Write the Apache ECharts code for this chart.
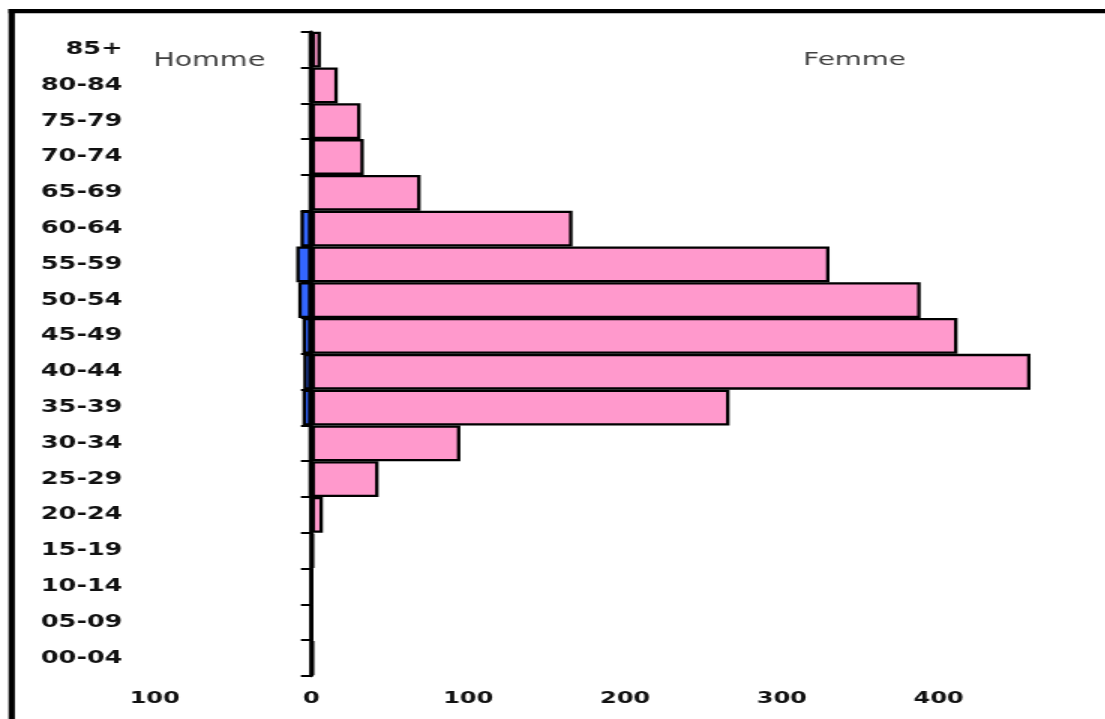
<!DOCTYPE html>
<html>
<head>
<meta charset="utf-8">
<script src="https://cdn.jsdelivr.net/npm/echarts@6/dist/echarts.min.js"></script>
<style>
html,body{margin:0;padding:0;background:#fff;overflow:hidden;width:1105px;height:719px;}
#c{width:737px;height:719px;transform:scaleX(1.5);transform-origin:0 0;}
</style>
</head>
<body>
<div id="c"></div>
<script>
// Age groups, bottom to top
const ageGroups = ['00-04','05-09','10-14','15-19','20-24','25-29','30-34','35-39','40-44','45-49','50-54','55-59','60-64','65-69','70-74','75-79','80-84','85+'];
// Homme (men) counts, drawn to the left
const homme = [0, 0, 0, 0, 0.5, 1.5, 1.5, 5.7, 5.2, 5.7, 8.4, 9.7, 7, 1.5, 1, 1.5, 1.5, 1.5];
// Femme (women) counts, drawn to the right
const femme = [1.4, 0, 0, 1.4, 7.3, 42.8, 95, 266.6, 458.6, 412, 388.5, 330.4, 166.5, 69.6, 33.4, 31.3, 16.8, 6];
// Value axis
const axisMin = -100, axisMax = 500, axisStep = 100;
const sideLabels = ['Homme', 'Femme'];

const gridLeft = 103.1, gridRight = 6.7, chartW = 737;
const plotW = chartW - gridLeft - gridRight;
const zeroOffset = plotW * (0 - axisMin) / (axisMax - axisMin);

const chart = echarts.init(document.getElementById('c'));
chart.setOption({
  animation: false,
  backgroundColor: '#ffffff',
  grid: { left: gridLeft, right: gridRight, top: 31.7, bottom: 43, containLabel: false },
  xAxis: {
    type: 'value', min: axisMin, max: axisMax, interval: axisStep,
    axisLine: { show: false }, axisTick: { show: false }, splitLine: { show: false },
    axisLabel: {
      margin: 15, fontSize: 16, fontWeight: 'bold', color: '#111', fontFamily: 'DejaVu Sans',
      showMaxLabel: false,
      formatter: v => String(Math.abs(v))
    }
  },
  yAxis: {
    type: 'category', data: ageGroups, position: 'left', offset: -zeroOffset, z: 5,
    axisLine: { show: true, onZero: false, lineStyle: { color: '#000', width: 2.5 } },
    axisTick: { show: true, length: 7, lineStyle: { color: '#000', width: 2 } },
    axisLabel: { show: true, interval: 0, margin: 126, fontSize: 17, fontWeight: 'bold', color: '#111', fontFamily: 'DejaVu Sans' },
    splitLine: { show: false }
  },
  series: [
    {
      name: sideLabels[0], type: 'bar', stack: 'pop', barCategoryGap: '0%',
      data: homme.map(v => -v),
      itemStyle: { color: '#3366ff', borderColor: '#000', borderWidth: 2.3 }
    },
    {
      name: sideLabels[1], type: 'bar', stack: 'pop', barCategoryGap: '0%',
      data: femme,
      itemStyle: { color: '#ff99cc', borderColor: '#000', borderWidth: 2.3 }
    }
  ],
  graphic: [
    { type: 'line', shape: { x1: 7.8, y1: 9.1, x2: 7.8, y2: 719 }, style: { stroke: '#000', lineWidth: 4.2 }, silent: true },
    { type: 'line', shape: { x1: 5.7, y1: 11.2, x2: 737, y2: 11.2 }, style: { stroke: '#000', lineWidth: 4.2 }, silent: true },
    { type: 'text', x: 102.2, y: 61, style: { text: sideLabels[0], font: '19px "DejaVu Sans"', fill: '#404040', verticalAlign: 'middle', align: 'left' } },
    { type: 'text', x: 535.5, y: 60, style: { text: sideLabels[1], font: '18.5px "DejaVu Sans"', fill: '#404040', verticalAlign: 'middle', align: 'left' } }
  ]
});
</script>
</body>
</html>
